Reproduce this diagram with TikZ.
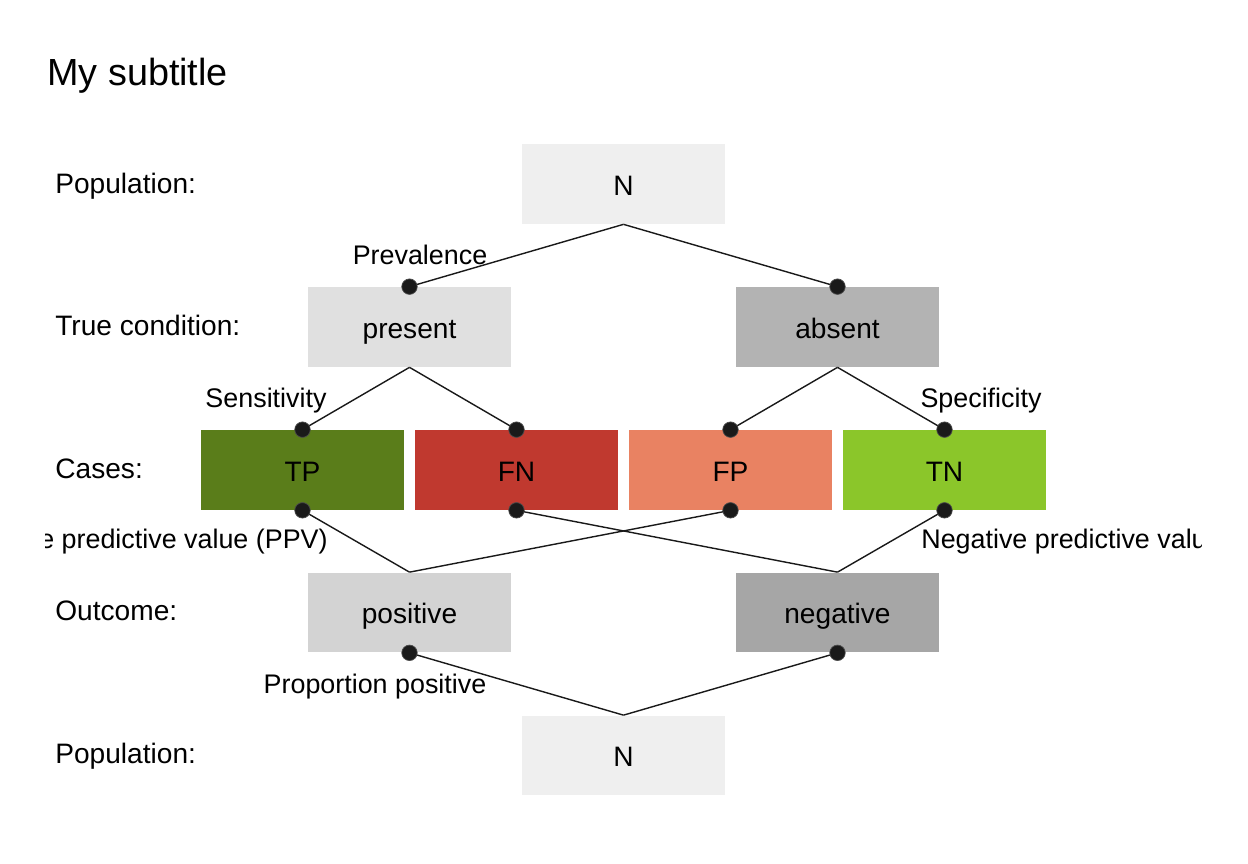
\documentclass[tikz,border=0pt]{standalone}
\usepackage{fontspec}
\setmainfont{Liberation Sans}
\definecolor{popcol}{HTML}{EFEFEF}
\definecolor{prescol}{HTML}{E0E0E0}
\definecolor{abscol}{HTML}{B3B3B3}
\definecolor{tpcol}{HTML}{5A7D1A}
\definecolor{fncol}{HTML}{C0392F}
\definecolor{fpcol}{HTML}{E98262}
\definecolor{tncol}{HTML}{8BC62A}
\definecolor{poscol}{HTML}{D3D3D3}
\definecolor{negcol}{HTML}{A6A6A6}
\definecolor{dotcol}{HTML}{1A1A1A}

\tikzset{
  box/.style={rectangle, minimum width=4.06cm, minimum height=1.6cm, inner sep=0pt,
    text height=16.2pt, text depth=3.4pt, font=\fontsize{16}{19}\selectfont},
  rowlabel/.style={anchor=mid west, inner sep=0pt, yshift=-0.1cm, font=\fontsize{16}{19}\selectfont},
  elabel/.style={inner sep=0pt, yshift=-0.08cm, font=\fontsize{15.3}{18}\selectfont},
  link/.style={line width=0.8pt, draw=black!90},
  joint/.style={fill=dotcol, draw=black!70, line width=0.4pt}
}

\begin{document}
\begin{tikzpicture}[x=0.02cm, y=-0.02cm]
  \useasboundingbox (0,0) rectangle (1248,864);
  \begin{scope}
  \clip (45,0) rectangle (1201,864);
  % title
  \node[anchor=mid west, inner sep=0pt, font=\fontsize{21.5}{25}\selectfont] (title) at (47,81) {My subtitle};
  % row labels
  \node[rowlabel] (rpop1) at (55,184) {Population:};
  \node[rowlabel] (rcond) at (55,326) {True condition:};
  \node[rowlabel] (rcase) at (55,469) {Cases:};
  \node[rowlabel] (rout) at (55,611) {Outcome:};
  \node[rowlabel] (rpop2) at (55,754) {Population:};
  % boxes
  \node[box, fill=popcol] (pop1) at (623.5,184) {N};
  \node[box, fill=prescol] (pres) at (409.5,327) {present};
  \node[box, fill=abscol] (abs) at (837.5,327) {absent};
  \node[box, fill=tpcol] (tp) at (302.5,470) {TP};
  \node[box, fill=fncol] (fn) at (516.5,470) {FN};
  \node[box, fill=fpcol] (fp) at (730.5,470) {FP};
  \node[box, fill=tncol] (tn) at (944.5,470) {TN};
  \node[box, fill=poscol] (pos) at (409.5,612.5) {positive};
  \node[box, fill=negcol] (neg) at (837.5,612.5) {negative};
  \node[box, fill=popcol] (pop2) at (623.5,755.5) {N};
  % links
  \draw[link] (pop1.south) -- (pres.north);
  \draw[link] (pop1.south) -- (abs.north);
  \draw[link] (pres.south) -- (tp.north);
  \draw[link] (pres.south) -- (fn.north);
  \draw[link] (abs.south) -- (fp.north);
  \draw[link] (abs.south) -- (tn.north);
  \draw[link] (tp.south) -- (pos.north);
  \draw[link] (fp.south) -- (pos.north);
  \draw[link] (fn.south) -- (neg.north);
  \draw[link] (tn.south) -- (neg.north);
  \draw[link] (pos.south) -- (pop2.north);
  \draw[link] (neg.south) -- (pop2.north);
  % joints
  \foreach \j in {pres.north, abs.north, tp.north, fn.north, fp.north, tn.north,
                  tp.south, fn.south, fp.south, tn.south, pos.south, neg.south}
    \draw[joint] (\j) circle (0.155cm);
  % edge labels
  \node[elabel] (lprev) at (420,251) {Prevalence};
  \node[elabel] (lsens) at (266,397) {Sensitivity};
  \node[elabel] (lspec) at (981,397) {Specificity};
  \node[elabel, anchor=mid east] (lppv) at (328,540) {Positive predictive value (PPV)};
  \node[elabel, anchor=mid west] (lnpv) at (921,540) {Negative predictive value (NPV)};
  \node[elabel] (lprop) at (375,683) {Proportion positive};
  \end{scope}
\end{tikzpicture}
\end{document}
